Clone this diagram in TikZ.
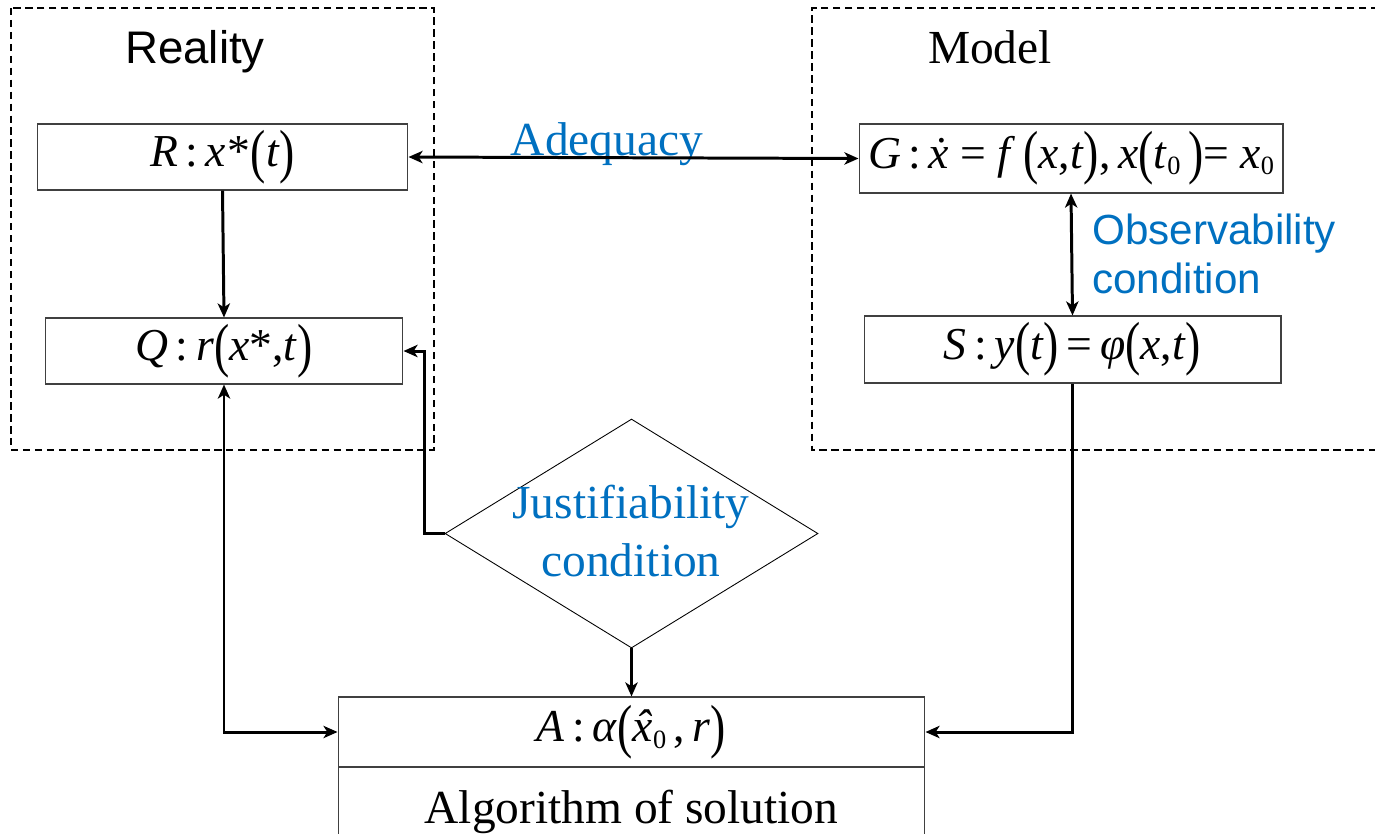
\documentclass[tikz,border=0pt]{standalone}
\usepackage{fontspec}
\setmainfont{Liberation Serif}
\newfontfamily\arialfont{Liberation Sans}
\usetikzlibrary{arrows.meta,shapes.geometric}
\definecolor{condblue}{HTML}{0070C0}
% italic symbol, tall parentheses, small lowered index, hatted x
\newcommand\itv[1]{\textit{#1}}
\newcommand\Lpar{\raisebox{-0.1em}{\scalebox{1}[1.3]{(}}}
\newcommand\Rpar{\raisebox{-0.1em}{\scalebox{1}[1.3]{)}}}
\newcommand\lowidx[1]{\raisebox{-0.3ex}{\fontsize{15pt}{15pt}\selectfont #1}}
\newcommand\hatx{\textit{\accent"02C6 x}}
\tikzset{
  box/.style={draw=black!75, line width=0.6pt, inner sep=0pt, fill=white,
    font=\fontsize{26pt}{30pt}\selectfont},
  frame/.style={line width=1.5pt, dash pattern=on 4.2pt off 2.6pt},
  arr/.style={line width=1.7pt, -{Stealth[length=8pt,width=7pt,inset=2.2pt]}},
  arrtwo/.style={line width=1.7pt, {Stealth[length=8pt,width=7pt,inset=2.2pt]}-{Stealth[length=8pt,width=7pt,inset=2.2pt]}},
  sanstitle/.style={font=\arialfont\fontsize{26pt}{30pt}\selectfont, inner sep=0pt},
  seriftitle/.style={font=\fontsize{27pt}{30pt}\selectfont, inner sep=0pt},
  bluelabel/.style={text=condblue, inner sep=0pt},
}
\begin{document}
\begin{tikzpicture}[x=0.02cm, y=-0.02cm]
\useasboundingbox (0,0) rectangle (1375,833);
\clip (0,0) rectangle (1375,833);

% Reality and Model regions
\draw[frame] (11,8) rectangle (434,450);
\draw[frame] (1390,8) -- (812,8) -- (812,450) -- (1390,450);
\node[sanstitle, anchor=base] (reality) at (195,63) {Reality};
\node[seriftitle, anchor=base] (model) at (990,63) {Model};

% Formula boxes
\node[box, minimum width=7.42cm, minimum height=1.32cm] (R) at (222.5,157)
  {\itv{R}\,:\,\itv{x}\kern1pt*\Lpar\itv{t}\Rpar};
\node[box, minimum width=7.16cm, minimum height=1.32cm] (Q) at (224,351)
  {\itv{Q}\,:\,\itv{r}\Lpar\itv{x}*,\itv{t}\Rpar};
\node[box, minimum width=8.48cm, minimum height=1.38cm] (G) at (1071,158.5)
  {\itv{G}\,:\,\itv{\.x} = \itv{f}\,\Lpar\itv{x},\itv{t}\Rpar,\,\itv{x}\Lpar\itv{t}\lowidx{0}\,\Rpar = \itv{x}\lowidx{0}};
\node[box, minimum width=8.34cm, minimum height=1.34cm] (S) at (1072.5,349.5)
  {\itv{S}\,:\,\itv{y}\Lpar\itv{t}\Rpar\,=\,\itv{φ}\Lpar\itv{x},\itv{t}\Rpar};

% Algorithm block
\node[box, minimum width=11.74cm, minimum height=1.8cm, font=\fontsize{27pt}{30pt}\selectfont] (alg) at (631.5,812)
  {Algorithm of solution};
\node[box, minimum width=11.74cm, minimum height=1.4cm] (A) at (631.5,732)
  {\itv{A}\,:\,\itv{α}\Lpar\hatx\lowidx{0}\,,\,\itv{r}\Rpar};

% Justifiability condition
\node[draw=black, line width=0.5pt, diamond, minimum width=7.46cm, minimum height=4.58cm, inner sep=0pt] (D) at (631.5,533.5) {};
\node[bluelabel, align=center, font=\fontsize{27pt}{33.4pt}\selectfont] (Dtext) at (631,531)
  {Justifiability\\condition};

% Labels of the links
\node[bluelabel, anchor=base, font=\fontsize{27pt}{30pt}\selectfont] (adeq) at (607,155) {Adequacy};
\node[bluelabel, anchor=west, align=left, font=\arialfont\fontsize{24pt}{27.8pt}\selectfont] (obs) at (1092,254)
  {Observability\\condition};

% Connectors
\draw[arr] (R.south) -- (Q.north);
\draw[arrtwo] (R.east) -- (G.west);
\draw[arrtwo] (G.south) -- (S.north);
\draw[arrtwo] (Q.south) |- (A.west);
\draw[arr] (D.west) -- ++(-20,0) |- (Q.east);
\draw[arr] (D.south) -- (A.north);
\draw[arr] (S.south) |- (A.east);
\end{tikzpicture}
\end{document}
